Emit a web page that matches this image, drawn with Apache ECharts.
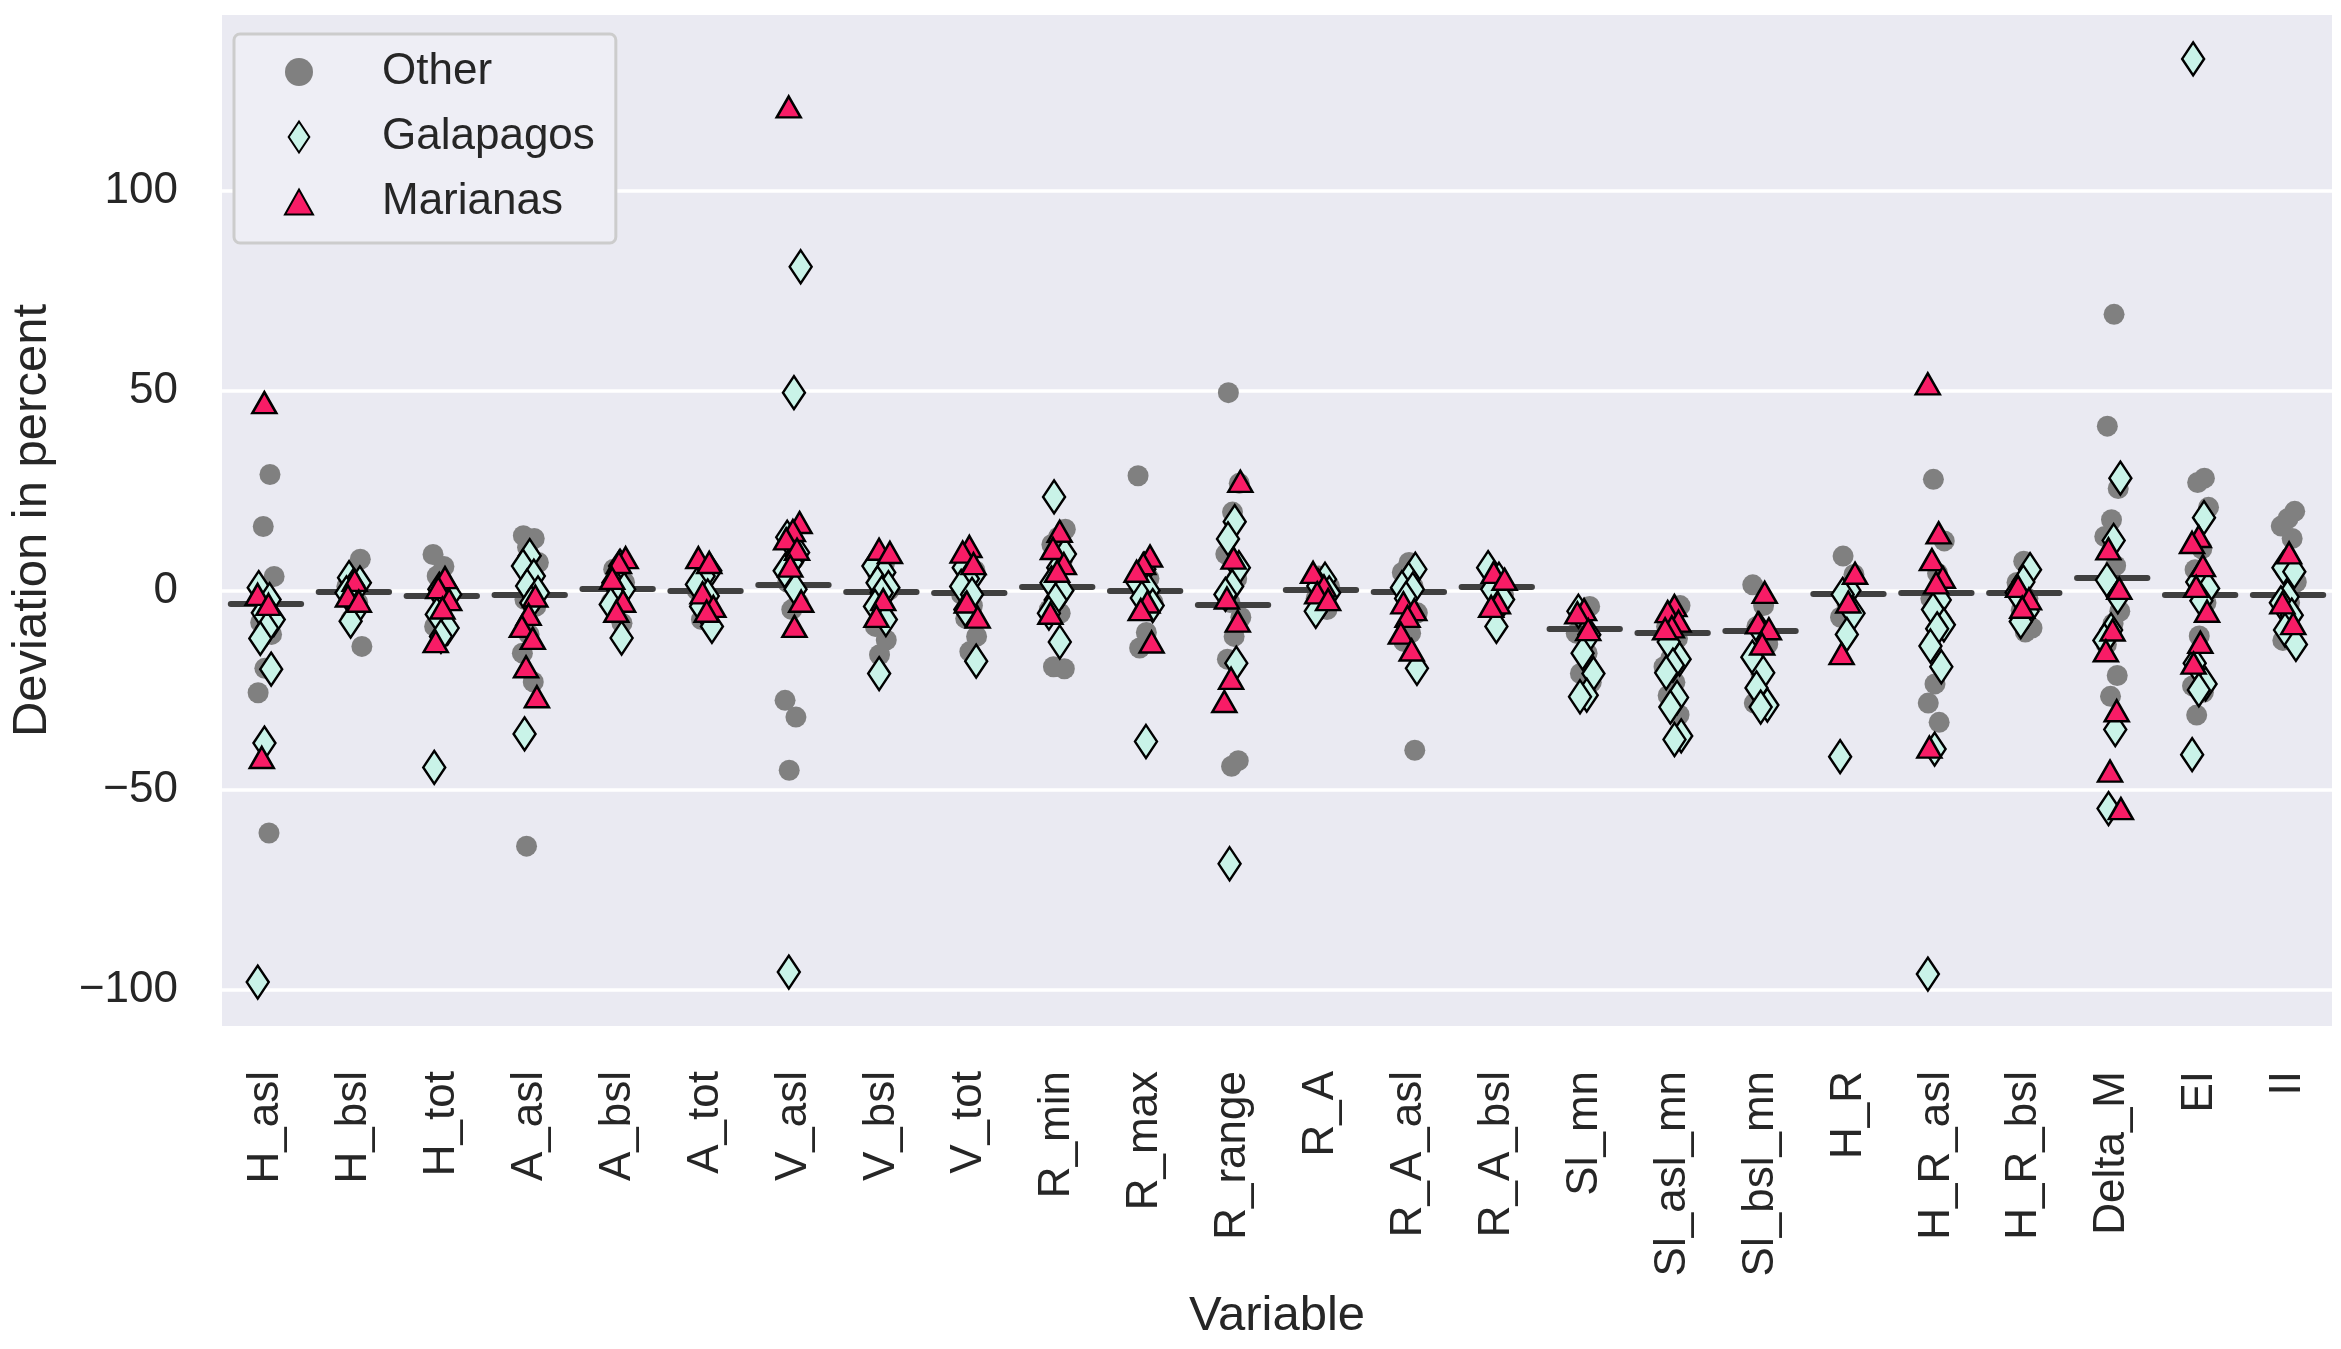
<!DOCTYPE html>
<html>
<head>
<meta charset="utf-8">
<script src="https://cdn.jsdelivr.net/npm/echarts@6/dist/echarts.min.js"></script>
<style>
html,body{margin:0;padding:0;background:#ffffff;}
#chart{width:2341px;height:1349px;}
</style>
</head>
<body>
<div id="chart"></div>
<script>
// ---------- data ----------
var categories = ['H_asl','H_bsl','H_tot','A_asl','A_bsl','A_tot','V_asl','V_bsl','V_tot','R_min','R_max','R_range','R_A','R_A_asl','R_A_bsl','Sl_mn','Sl_asl_mn','Sl_bsl_mn','H_R','H_R_asl','H_R_bsl','Delta_M','EI','II'];

var yTicks = [-100, -50, 0, 50, 100];

var otherValues = [
  [29, 16, 3.5, -2, -8, -11, -19.5, -25.6, -60.7],
  [7.8, 4.5, 1, -3, -7.3, -14],
  [9, 6, 3.6, -0.6, -6.5, -9],
  [13.7, 13, 10.8, 7, 1.9, -2.3, -4, -11, -15.7, -22.9, -64],
  [5.3, 2, 0.3, -3, -8.2],
  [4, 0, -4, -7.3],
  [7.8, 2, -3.1, -4.8, -27.5, -31.7, -45],
  [7, 3.6, 0, -4, -9, -12.4, -16.1],
  [5, 2.9, -1, -3.8, -7, -11.5, -15.3],
  [15.3, 13.4, 11.5, 8, 1.9, -4.8, -5.7, -19.1, -19.6],
  [28.7, 3, 0, -3, -10.5, -14.4],
  [49.5, 26.8, 19.6, 9.1, 2.9, -3, -6.7, -11.5, -17.2, -42.6, -44],
  [3.6, 1, 0.3, -2, -4.8],
  [7, 4.5, 1, -2, -5.6, -10.7, -12.8, -40],
  [3, 1, -1, -4.8],
  [-4, -6, -10.7, -15.7, -20.8, -23],
  [-3.8, -6.7, -9, -12, -17, -19.1, -23, -26.3, -31.1],
  [1.4, -3.8, -9, -13.4, -21, -28.2],
  [8.6, 4, -3.8, -6.7],
  [27.8, 12.4, 4.3, -2, -7.7, -23.4, -28.2, -33],
  [7.3, 2, -2, -5, -9.4, -10.4],
  [69.1, 41.1, 25.5, 17.7, 13.5, 6.2, 2, -5.2, -8.3, -13.5, -21.3, -26.5],
  [28.1, 27, 20.8, 10.4, 5.2, -3.1, -11.4, -23.9, -25.5, -31.2],
  [19.8, 18, 16.1, 13, 5, 2.1, -3, -12.5]
];

var galapagosValues = [
  [0.7, -2.3, -5.6, -7.3, -9.4, -12, -19.7, -38.2, -98],
  [3.2, 1.9, 1.1, -0.6, -4.4, -7.7],
  [0.3, -1, -2.3, -6, -9.4, -11.5, -44.3],
  [8.7, 6.1, 3.6, 1.1, -0.6, -3.1, -35.9],
  [6.1, 1.9, 0.3, -2.3, -3.5, -11.9],
  [4.9, 3.6, 1.5, -1.4, -4, -9],
  [81, 49.5, 13.3, 9.5, 7, 4.9, 0.3, -95.5],
  [6.1, 4.5, 1.9, 0.7, -0.6, -4, -7.3, -20.8],
  [5.7, 4, 2.9, 1, -1, -4.8, -17.7],
  [23.4, 9.1, 5.7, 1.9, 0, -2.4, -5.7, -12.9],
  [5.3, 1.9, 0, -1.9, -3.8, -37.8],
  [17.2, 12.9, 5.7, 1, -1, -18.2, -68.4],
  [2.8, 1.1, -0.6, -2.7, -5.2],
  [5.3, 2.8, 0.7, 0.3, -2, -19.5],
  [5.7, 2.8, 0.3, -2.3, -9],
  [-5.2, -11.1, -15.7, -20.8, -26.2, -26.6],
  [-12.9, -17.2, -18.7, -20.6, -26.8, -29.2, -36.4, -37.3],
  [-9.6, -16.7, -20.6, -24.4, -28.7, -29.2],
  [0, -1, -5.7, -11, -41.6],
  [-2.4, -4.8, -8.6, -9.6, -13.9, -19.1, -39.7, -96],
  [5.2, 2.1, -0.5, -5.2, -7.8],
  [28.1, 12.5, 2.6, -1.6, -9.9, -12.5, -34.8, -54.6],
  [133, 18.2, 2.1, 0.5, -2.6, -18.2, -23.4, -24.9, -41.1],
  [5.7, 4.7, -1.6, -3.1, -6.2, -9.9, -13.5]
];

var marianasValues = [
  [47, -1, -3.5, -41.8],
  [2.5, -1.4, -2.7],
  [3.2, 0.7, -2.3, -4.4, -12.8],
  [-1.4, -6, -9, -12, -19.1, -26.6],
  [8.2, 7, 3, -2.7, -5.2],
  [8.2, 7, -0.6, -4, -5.2],
  [121, 17, 15, 12.9, 10.3, 6.1, -2.7, -9],
  [10.3, 9.5, -2.3, -6.5],
  [11, 9.6, 6.7, -2.9, -6.7],
  [14.8, 10.5, 6.7, 4.8, -5.7],
  [8.6, 6.7, 4.8, -2.9, -4.8, -12.9],
  [27.3, 8.1, -1.9, -7.7, -22, -27.8],
  [4.5, 1.1, -0.6, -2.3],
  [-3.1, -4.8, -6.5, -10.7, -14.9],
  [4.5, 2.8, -3.1, -4],
  [-4.8, -5.6, -9.8],
  [-3.8, -5.3, -7.7, -9.1, -9.6],
  [-0.5, -8.1, -9.6, -13.4],
  [4.3, -2.9, -15.8],
  [51.7, 14.4, 7.7, 3.3, 1.9, -39.2],
  [1, -2.1, -4.2],
  [10.4, 0.5, -9.9, -15.1, -30.1, -45.2, -54.6],
  [13.5, 12, 6.2, 1, -5.2, -13, -18.2],
  [9.4, -3.1, -8.3]
];

var medianValues = [-3.4, -0.4, -1.4, -1.2, 0.3, -0.2, 1.3, -0.4, -0.5, 0.8, 0, -3.6, 0.1, -0.4, 0.8, -9.6, -10.5, -10, -0.8, -0.7, -0.5, 3.1, -1.2, -1];

// ---------- presentation ----------
var FONT = '"Liberation Sans", Arial, sans-serif';
var TEXT = '#262626';
var DIAMOND = 'path://M10,0 L20,15 L10,30 L0,15 Z';
var TRIANGLE = 'path://M14,0 L28,25 L0,25 Z';

// deterministic strip-plot jitter (layout only)
function jitter(k, seed) {
  var f = ((k + 1) * 0.6180339887 + seed) % 1;
  return (f - 0.5) * 0.2;
}
function stripData(groups, seed) {
  var out = [];
  groups.forEach(function (vals, i) {
    vals.forEach(function (v, k) {
      out.push([i + jitter(k, seed + i * 0.137), v]);
    });
  });
  return out;
}
var medianLines = medianValues.map(function (m, i) {
  return { coords: [[i - 0.4, m], [i + 0.4, m]] };
});

var chart = echarts.init(document.getElementById('chart'));
chart.setOption({
  animation: false,
  backgroundColor: '#ffffff',
  textStyle: { fontFamily: FONT, color: TEXT },
  grid: {
    left: 215, right: 9, top: 15, bottom: 323,
    show: true, backgroundColor: '#EAEAF2', borderWidth: 0
  },
  legend: {
    z: 20,
    orient: 'vertical', left: 234, top: 34,
    data: [
      { name: 'Other', icon: 'circle' },
      { name: 'Galapagos', icon: DIAMOND },
      { name: 'Marianas', icon: TRIANGLE }
    ],
    itemWidth: 28, itemHeight: 31, itemGap: 15,
    padding: [13, 21, 16, 50],
    textStyle: { fontSize: 44, color: TEXT, fontFamily: FONT, padding: [0, 0, 0, 64], lineHeight: 50 },
    backgroundColor: '#EEEEF5', borderColor: '#CCCCCC', borderWidth: 3, borderRadius: 6,
    selectedMode: false
  },
  xAxis: [
    {
      type: 'category', data: categories, boundaryGap: true,
      axisLine: { show: false }, axisTick: { show: false }, splitLine: { show: false },
      axisLabel: { rotate: 90, fontSize: 44, color: TEXT, fontFamily: FONT, margin: 45, interval: 0 },
      name: 'Variable', nameLocation: 'middle', nameGap: 266,
      nameTextStyle: { fontSize: 49, color: TEXT, fontFamily: FONT }
    },
    { type: 'value', min: -0.5, max: 23.5, show: false }
  ],
  yAxis: {
    type: 'value', min: -109, max: 144, interval: 1,
    axisLine: { show: false }, axisTick: { show: false }, splitLine: { show: false },
    axisLabel: {
      fontSize: 44, color: TEXT, fontFamily: FONT, margin: 44,
      formatter: function (v) {
        var r = Math.round(v);
        if (Math.abs(v - r) > 1e-6 || yTicks.indexOf(r) < 0) return '';
        return r < 0 ? '\u2212' + Math.abs(r) : String(r);
      }
    },
    name: 'Deviation in percent', nameLocation: 'middle', nameGap: 165,
    nameTextStyle: { fontSize: 49, color: TEXT, fontFamily: FONT }
  },
  series: [
    {
      name: 'grid', type: 'line', xAxisIndex: 1, data: [], z: 1, silent: true,
      markLine: {
        z: 1,
        silent: true, symbol: ['none', 'none'], label: { show: false },
        lineStyle: { color: '#ffffff', width: 3.5, type: 'solid' },
        data: yTicks.map(function (v) { return { yAxis: v }; })
      }
    },
    {
      name: 'Other', type: 'scatter', xAxisIndex: 1, z: 2,
      symbol: 'circle', symbolSize: 21,
      itemStyle: { color: '#808080', opacity: 1 },
      data: stripData(otherValues, 0.11)
    },
    {
      name: 'median', type: 'lines', coordinateSystem: 'cartesian2d', xAxisIndex: 1, z: 3,
      silent: true,
      lineStyle: { color: '#404040', width: 6, opacity: 1, cap: 'round' },
      data: medianLines
    },
    {
      name: 'Galapagos', type: 'scatter', xAxisIndex: 1, z: 4,
      symbol: DIAMOND, symbolSize: [22, 33],
      itemStyle: { color: '#C9F3E8', borderColor: '#000000', borderWidth: 2.5, opacity: 1 },
      data: stripData(galapagosValues, 0.47)
    },
    {
      name: 'Marianas', type: 'scatter', xAxisIndex: 1, z: 5,
      symbol: TRIANGLE, symbolSize: [24, 21],
      itemStyle: { color: '#F81C66', borderColor: '#000000', borderWidth: 2.5, opacity: 1 },
      data: stripData(marianasValues, 0.79)
    }
  ]
});
</script>
</body>
</html>
